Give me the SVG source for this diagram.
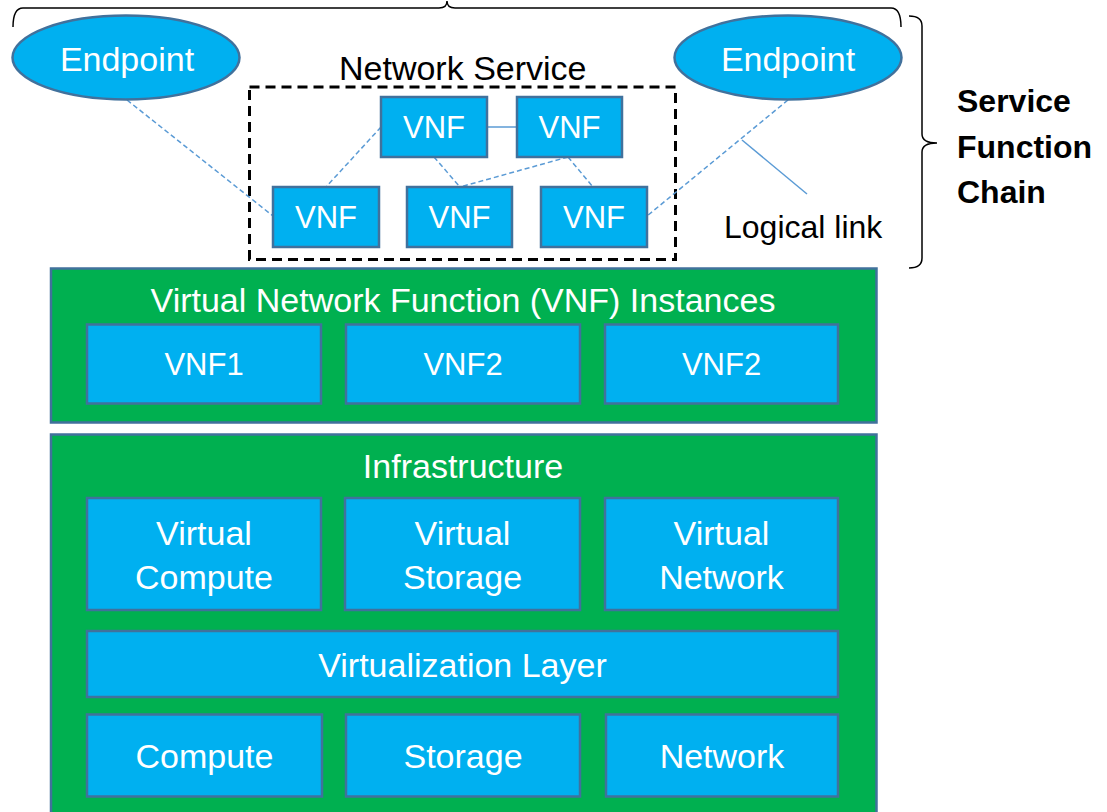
<svg xmlns="http://www.w3.org/2000/svg" width="1107" height="812" viewBox="0 0 1107 812">
<style>
.bg{fill:#ffffff}
.grn{fill:#00B050;stroke:#41719C;stroke-width:2.5}
.blu{fill:#00B0F0;stroke:#41719C;stroke-width:2.5}
.t{font-family:"Liberation Sans",Arial,sans-serif;font-size:34px;fill:#ffffff;text-anchor:middle}
.tv{font-family:"Liberation Sans",Arial,sans-serif;font-size:31px;fill:#ffffff;text-anchor:middle}
.tk{font-family:"Liberation Sans",Arial,sans-serif;font-size:34px;fill:#000000}
.tb{font-family:"Liberation Sans",Arial,sans-serif;font-size:32px;font-weight:bold;fill:#000000}
.dash{fill:none;stroke:#5B9BD5;stroke-width:1.5;stroke-dasharray:5,3}
.solid{fill:none;stroke:#5B9BD5;stroke-width:1.5}
.brace{fill:none;stroke:#000000;stroke-width:1.5}
</style>
<rect class="bg" x="0" y="0" width="1107" height="812"/>

<g id="braces">
<path class="brace" d="M13,27 Q13,8 23,8 L439,8 Q447,8 447,1 Q447,8 455,8 L891,8 Q901,8 901,27"/>
<path class="brace" d="M909,16 Q922,16 922,26 L922,134 Q922,143 937,143 Q922,143 922,152 L922,258 Q922,268 909,268"/>
</g>

<g id="network-service-frame">
<rect x="249.5" y="87" width="426" height="172.5" fill="none" stroke="#000000" stroke-width="3" stroke-dasharray="10,6"/>
<text class="tk" x="339" y="80">Network Service</text>
</g>

<g id="connectors">
<line class="dash" x1="127" y1="100" x2="273" y2="216"/>
<line class="dash" x1="788" y1="100" x2="647" y2="216"/>
<line class="dash" x1="381" y1="127" x2="326" y2="187"/>
<line class="solid" x1="488" y1="127" x2="517" y2="127"/>
<line class="dash" x1="434" y1="157" x2="460" y2="187"/>
<line class="dash" x1="568" y1="157" x2="460" y2="187"/>
<line class="dash" x1="568" y1="157" x2="593" y2="187"/>
<line class="solid" x1="742" y1="140" x2="807" y2="194"/>
</g>

<g id="endpoint-left">
<ellipse class="blu" cx="126" cy="57.5" rx="113.5" ry="42"/>
<text class="t" x="127" y="71">Endpoint</text>
</g>
<g id="endpoint-right">
<ellipse class="blu" cx="788" cy="57.5" rx="113.5" ry="42"/>
<text class="t" x="788" y="71">Endpoint</text>
</g>

<g id="vnf-top-left">
<rect class="blu" x="381" y="97" width="106" height="60"/>
<text class="tv" x="434" y="138">VNF</text>
</g>
<g id="vnf-top-right">
<rect class="blu" x="517" y="97" width="105" height="60"/>
<text class="tv" x="569.5" y="138">VNF</text>
</g>
<g id="vnf-bottom-left">
<rect class="blu" x="273" y="187" width="106" height="60"/>
<text class="tv" x="326" y="228">VNF</text>
</g>
<g id="vnf-bottom-mid">
<rect class="blu" x="407" y="187" width="105" height="60"/>
<text class="tv" x="459.5" y="228">VNF</text>
</g>
<g id="vnf-bottom-right">
<rect class="blu" x="541" y="187" width="106" height="60"/>
<text class="tv" x="594" y="228">VNF</text>
</g>

<g id="logical-link-label">
<text class="tk" x="724" y="238" style="font-size:32px">Logical link</text>
</g>

<g id="sfc-label">
<text class="tb" x="957" y="112">Service</text>
<text class="tb" x="957" y="158">Function</text>
<text class="tb" x="957" y="203">Chain</text>
</g>

<g id="vnf-instances">
<rect class="grn" x="51" y="268.5" width="825.5" height="154"/>
<text class="t" x="463" y="312">Virtual Network Function (VNF) Instances</text>
</g>
<g id="vnf1">
<rect class="blu" x="87" y="324.5" width="234" height="79"/>
<text class="tv" x="204" y="375">VNF1</text>
</g>
<g id="vnf2a">
<rect class="blu" x="346" y="324.5" width="234" height="79"/>
<text class="tv" x="463" y="375">VNF2</text>
</g>
<g id="vnf2b">
<rect class="blu" x="605" y="324.5" width="233" height="79"/>
<text class="tv" x="721.5" y="375">VNF2</text>
</g>

<g id="infrastructure">
<rect class="grn" x="51" y="434.5" width="825.5" height="390"/>
<text class="t" x="463" y="478">Infrastructure</text>
</g>
<g id="virtual-compute">
<rect class="blu" x="87" y="498" width="234" height="112"/>
<text class="t" x="204" y="545">Virtual</text>
<text class="t" x="204" y="589">Compute</text>
</g>
<g id="virtual-storage">
<rect class="blu" x="345" y="498" width="235" height="112"/>
<text class="t" x="462.5" y="545">Virtual</text>
<text class="t" x="462.5" y="589">Storage</text>
</g>
<g id="virtual-network">
<rect class="blu" x="605" y="498" width="233" height="112"/>
<text class="t" x="721.5" y="545">Virtual</text>
<text class="t" x="721.5" y="589">Network</text>
</g>
<g id="virtualization-layer">
<rect class="blu" x="87" y="631" width="751" height="66"/>
<text class="t" x="462.5" y="677">Virtualization Layer</text>
</g>
<g id="compute">
<rect class="blu" x="87" y="714.5" width="235" height="82"/>
<text class="t" x="204.5" y="768">Compute</text>
</g>
<g id="storage">
<rect class="blu" x="346" y="714.5" width="234" height="82"/>
<text class="t" x="463" y="768">Storage</text>
</g>
<g id="network">
<rect class="blu" x="606" y="714.5" width="232" height="82"/>
<text class="t" x="722" y="768">Network</text>
</g>
</svg>
